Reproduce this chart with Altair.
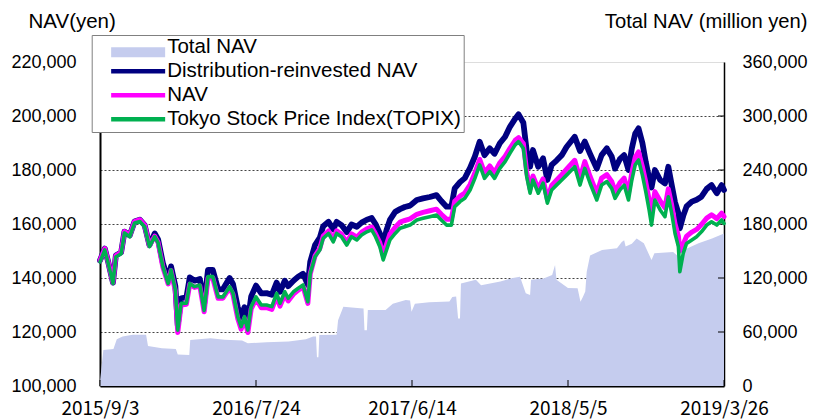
import altair as alt
import pandas as pd

# ---------------- data ----------------
line_dates = ["2015-09-03","2015-09-13","2015-09-20","2015-09-30","2015-10-06","2015-10-17","2015-10-24","2015-11-04","2015-11-14","2015-11-25",
"2015-12-05","2015-12-15","2015-12-26","2016-01-02","2016-01-12","2016-01-23","2016-01-29","2016-02-07","2016-02-12","2016-02-19",
"2016-03-01","2016-03-08","2016-03-18","2016-03-29","2016-04-07","2016-04-15","2016-04-25","2016-05-06","2016-05-16","2016-05-30",
"2016-06-06","2016-06-16","2016-06-23","2016-06-30","2016-07-07","2016-07-14","2016-07-24","2016-08-04","2016-08-15","2016-08-26",
"2016-09-05","2016-09-12","2016-09-22","2016-09-29","2016-10-10","2016-10-20","2016-10-30","2016-11-09","2016-11-14","2016-11-24",
"2016-12-04","2016-12-11","2016-12-22","2017-01-01","2017-01-08","2017-01-18","2017-01-29","2017-02-08","2017-02-19","2017-03-01",
"2017-03-12","2017-03-22","2017-03-30","2017-04-08","2017-04-15","2017-04-22","2017-04-29","2017-05-10","2017-05-20","2017-05-30",
"2017-06-10","2017-06-24","2017-07-07","2017-07-21","2017-08-04","2017-08-14","2017-08-25","2017-09-04","2017-09-11","2017-09-22",
"2017-10-02","2017-10-13","2017-10-23","2017-11-02","2017-11-12","2017-11-23","2017-12-03","2017-12-14","2017-12-25","2018-01-04",
"2018-01-15","2018-01-22","2018-02-01","2018-02-08","2018-02-15","2018-02-21","2018-03-04","2018-03-14","2018-03-23","2018-04-01",
"2018-04-11","2018-04-22","2018-05-02","2018-05-19","2018-05-30","2018-06-09","2018-06-20","2018-07-04","2018-07-14","2018-07-25",
"2018-08-04","2018-08-11","2018-08-21","2018-08-30","2018-09-08","2018-09-15","2018-09-22","2018-09-29","2018-10-07","2018-10-14",
"2018-10-21","2018-10-26","2018-11-02","2018-11-13","2018-11-23","2018-11-30","2018-12-07","2018-12-14","2018-12-21","2018-12-24",
"2018-12-31","2019-01-07","2019-01-18","2019-01-28","2019-02-07","2019-02-18","2019-02-28","2019-03-11","2019-03-21","2019-03-26"]

topix = [146000,150400,145500,138000,147800,149000,156700,155300,160400,160900,
159000,151600,155300,153000,144200,138000,143000,135600,120700,130600,
130700,138000,136800,137400,128000,140500,140500,133000,133000,136800,
134400,125700,122000,125700,120700,129400,133000,130000,130000,129400,
134300,130600,134900,132500,134900,136200,137400,131200,141700,147900,
150400,154700,156500,153400,156500,155300,152200,155300,154100,155900,
157100,157800,155300,151600,146700,150400,154100,156500,158400,159000,
159600,161500,162100,162700,163300,161500,159600,159600,166400,168300,
169500,172600,176900,181900,176900,179400,176900,180600,183100,186200,
189300,190500,188000,177500,171400,176300,171400,175100,167700,172600,
174400,176300,178100,181200,174400,180600,175100,168900,174400,175700,
173200,169500,172600,174400,168900,176300,181900,183700,178100,172000,
165200,159600,168900,165200,162700,170100,164000,156500,151600,142300,
149100,152800,154100,155300,157100,159600,160800,159600,161500,160200]

nav = [146500,150900,146000,138300,148300,149500,157200,155800,160900,161600,
159600,152000,155500,153200,144000,137800,142800,135200,119800,130000,
130300,137700,136500,137000,127500,140000,140000,132500,132500,136300,
133900,125000,121000,125000,119800,128600,132200,129000,129000,128400,
133300,129600,133900,131500,134000,135500,136800,130600,141500,148200,
151000,155500,157400,154300,157500,156300,153200,156300,155100,157000,
158200,158900,156400,153000,148500,152500,156300,158800,160700,161300,
161900,163600,164300,164900,165500,163600,161800,161800,168400,170300,
171500,174600,178900,183900,179000,181500,179000,182700,185100,188000,
191000,192000,189800,179200,173000,177800,173000,176700,169200,174300,
176200,178300,180300,183600,176900,183100,177600,171400,177000,178300,
175800,172000,175200,177000,171500,179000,184700,186700,181200,175500,
169000,164000,172000,168500,166000,173000,167000,160000,155500,150000,
152500,155500,157000,158000,159800,162200,163400,162000,164000,162700]

reinvested = [146500,150900,146000,138300,148300,149500,157200,155800,160900,161600,
159600,152200,156500,154300,145500,139300,144300,137000,122500,132500,
132800,140200,139000,139600,130300,143000,143000,135800,135800,140000,
137800,129200,125500,129200,124200,133200,137200,134300,134400,133800,
138300,134900,139000,137000,139000,140500,141600,137500,146000,152200,
155000,159200,160800,158000,160800,159600,157000,159800,159000,160500,
161600,162200,160000,156500,153000,157800,161500,164500,165500,166300,
166800,168900,169500,170000,170700,168500,166400,166400,173200,175500,
177000,180800,185000,190500,185500,188000,186000,189900,192300,196000,
199000,200600,197500,187000,181200,187400,181200,184300,176300,181900,
183500,185500,188500,192300,187000,190500,186000,180500,185500,188000,
185000,180500,184000,185500,180000,188000,193500,195400,190000,183000,
177000,173500,180000,176300,175000,181200,174500,168000,164000,158400,
163000,166500,168300,169000,170100,173000,174400,171400,174400,172600]

total_dates = ["2015-09-03","2015-09-06","2015-09-10","2015-10-01","2015-10-08","2015-10-20","2015-11-10","2015-12-08","2015-12-12","2016-01-10",
"2016-02-08","2016-02-12","2016-03-07","2016-03-09","2016-04-20","2016-05-20","2016-06-25","2016-07-07","2016-08-15","2016-09-30",
"2016-11-05","2016-11-20","2016-11-26","2016-11-28","2016-12-01","2016-12-03","2017-01-08","2017-01-11","2017-01-22","2017-02-26",
"2017-03-05","2017-03-07","2017-03-12","2017-03-14","2017-04-20","2017-05-05","2017-06-01","2017-06-10","2017-06-13","2017-06-20",
"2017-07-20","2017-08-31","2017-09-06","2017-09-14","2017-09-18","2017-09-22","2017-09-24","2017-10-25","2017-11-05","2017-12-15",
"2018-01-10","2018-01-25","2018-02-06","2018-02-15","2018-02-17","2018-03-15","2018-04-02","2018-04-08","2018-04-11","2018-05-05",
"2018-05-25","2018-05-31","2018-06-05","2018-06-10","2018-06-13","2018-06-20","2018-07-15","2018-08-15","2018-08-25","2018-08-30",
"2018-09-02","2018-09-15","2018-09-25","2018-10-10","2018-10-26","2018-11-01","2018-12-10","2018-12-25","2019-01-01","2019-02-01",
"2019-03-01","2019-03-26"]

total_nav = [5000,20000,40000,41000,52000,55000,57000,57000,44500,42000,
41000,35000,34500,51000,53000,51500,50500,47500,48500,49500,
52000,55000,55000,32000,32000,56700,57000,73000,88000,86500,
86000,62000,62000,84500,84500,91500,95500,95000,82500,91500,
93000,94000,99000,99500,75000,75000,114000,118000,112000,116000,
120000,121500,103000,101000,118000,119500,123300,134500,118000,109000,
108500,93500,99000,105000,127000,145000,151000,153000,160000,162000,
155000,158000,164000,158500,140000,147500,149000,142000,151000,158500,
164000,169500]

series_names = ["Total NAV", "Distribution-reinvested NAV", "NAV", "Tokyo Stock Price Index(TOPIX)"]
series_colors = ["#C5CCEE", "#000080", "#FF00FF", "#00B050"]
line_widths = [5.8, 5, 3.6]

x_tick_dates = ["2015-09-03", "2016-07-24", "2017-06-14", "2018-05-05", "2019-03-26"]
left_ticks = [100000, 120000, 140000, 160000, 180000, 200000, 220000]
right_ticks = [0, 60000, 120000, 180000, 240000, 300000, 360000]

# ---------------- tables ----------------
n = len(line_dates)
lines_df = pd.DataFrame({
    "date": line_dates * 3,
    "value": reinvested + nav + topix,
    "series": [series_names[1]] * n + [series_names[2]] * n + [series_names[3]] * n,
})
total_df = pd.DataFrame({"date": total_dates, "total": total_nav, "series": series_names[0]})
xtick_df = pd.DataFrame({"date": x_tick_dates})
rtick_df = pd.DataFrame({"total": right_ticks[1:-1]})


def ms(s):
    return int(pd.Timestamp(s, tz="UTC").value // 10**6)


W, H = 624, 324
FONT = "Liberation Sans"

x_scale = alt.Scale(type="utc", domain=[ms(x_tick_dates[0]), ms(x_tick_dates[-1])], nice=False)
x_axis = alt.Axis(values=[ms(d) for d in x_tick_dates], format="%Y/%-m/%-d", title=None,
                  labelFont="Noto Sans CJK JP", labelFontSize=19, labelPadding=13, tickSize=0,
                  grid=False, labelFlush=False, labelOverlap=False, labelColor="black",
                  domainColor="black", domainWidth=2)
X = alt.X("date:T", scale=x_scale, axis=x_axis)

left_axis = alt.Axis(values=left_ticks, format=",d", title="NAV(yen)", titleAngle=0, titleAlign="left",
                     titleBaseline="alphabetic", titleX=-72, titleY=-35, titleFont=FONT, titleFontSize=20.5,
                     titleFontWeight="normal", titleColor="black", labelFont=FONT, labelFontSize=18,
                     labelColor="black", labelPadding=24, tickSize=0, grid=True, gridDash=[2, 2],
                     gridColor="#444444", gridWidth=1,
                     gridOpacity={"condition": {"test": "datum.value >= 220000 || datum.value <= 100000", "value": 0}, "value": 1},
                     domainColor="black", domainWidth=2)
right_axis = alt.Axis(orient="right", values=right_ticks, format=",d", title="Total NAV (million yen)",
                      titleAngle=0, titleAlign="right", titleBaseline="alphabetic", titleX=83, titleY=-35,
                      titleFont=FONT, titleFontSize=20.2, titleFontWeight="normal", titleColor="black",
                      labelFont=FONT, labelFontSize=18, labelColor="black", labelPadding=18, tickSize=0,
                      grid=False, domainColor="black", domainWidth=1.5)

LX, LY = -8.3, -27
# main legend box (all four labels, line swatches)
legend_lines = alt.Legend(
    title=None, orient="none", legendX=LX, legendY=LY, direction="vertical",
    fillColor="white", strokeColor="#808080", padding=2, rowPadding=3,
    labelFont=FONT, labelFontSize=20.5, labelColor="black", labelOffset=53, labelLimit=600,
    symbolSize=144, symbolType="M1.2,0H10.2", symbolStrokeWidth=4.6, symbolOpacity=1, zindex=1,
)
# filled swatch for the Total NAV area, drawn over the first row of the box
legend_area = alt.Legend(
    title=None, orient="none", legendX=LX, legendY=LY + 5, direction="vertical",
    padding=2, labelFontSize=20.5, labelOffset=53, labelExpr="''",
    symbolSize=144, symbolType="M1.2,-0.85H10.2V0.85H1.2Z", symbolStrokeWidth=0, symbolOpacity=1, zindex=2,
)

fill = alt.Fill("series:N", scale=alt.Scale(domain=series_names[:1], range=series_colors[:1]), legend=legend_area)
stroke = alt.Stroke("series:N", scale=alt.Scale(domain=series_names, range=["rgba(0,0,0,0)"] + series_colors[1:]),
                    legend=legend_lines)

yr_scale = alt.Scale(domain=[0, 360000], nice=False, zero=True)
yl_scale = alt.Scale(domain=[100000, 220000], nice=False, zero=False)

area = alt.Chart(total_df).mark_area(opacity=1).encode(
    x=X, y=alt.Y("total:Q", scale=yr_scale, axis=right_axis), fill=fill)
rticks = alt.Chart(rtick_df).mark_rule(color="black", strokeWidth=1).encode(
    y=alt.Y("total:Q", scale=yr_scale, axis=right_axis), x=alt.value(W), x2=alt.value(W - 6))
right_part = alt.layer(area, rticks)


def line(i):
    return alt.Chart(lines_df).transform_filter(alt.datum.series == series_names[i + 1]).mark_line(
        strokeWidth=line_widths[i], strokeCap="round", strokeJoin="round").encode(
        x=X, y=alt.Y("value:Q", scale=yl_scale, axis=left_axis), stroke=stroke)


xticks = alt.Chart(xtick_df).mark_rule(color="black", strokeWidth=1).encode(
    x=X, y=alt.value(H), y2=alt.value(H - 6))

left_part = alt.layer(line(0), line(1), line(2), xticks)

chart = alt.layer(right_part, left_part).resolve_scale(y="independent").properties(
    width=W, height=H, autosize="none",
    padding={"left": 92, "top": 54, "right": 85, "bottom": 33},
).configure_view(stroke="#8c8c8c", strokeWidth=2).configure(background="white")

chart.save("out.html", embed_options={"renderer": "svg", "actions": False})
